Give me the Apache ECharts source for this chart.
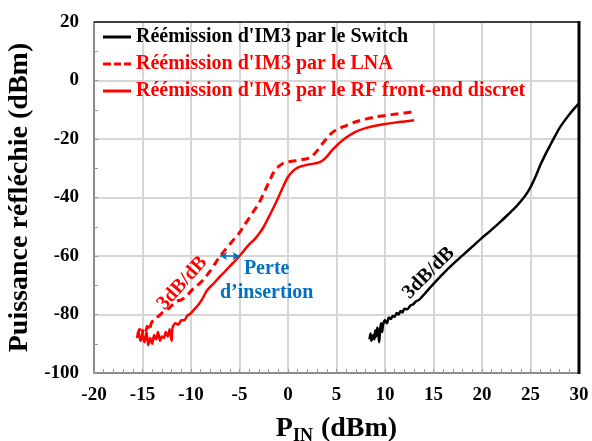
<!DOCTYPE html>
<html><head><meta charset="utf-8">
<script src="https://cdn.jsdelivr.net/npm/echarts@6/dist/echarts.min.js"></script>
<style>html,body{margin:0;padding:0;background:#fff}#c{width:592px;height:441px}</style>
</head><body><div id="c"></div>
<script>
const seriesNames = [
  "Réémission d'IM3 par le Switch",
  "Réémission d'IM3 par le LNA",
  "Réémission d'IM3 par le RF front-end discret"
];
const xRange = [-20, 30, 5];
const yRange = [-100, 20, 20];

const switchData = [
  [8.4,-88.5],[8.5,-86.5],[8.6,-89],[8.8,-87],[8.9,-88.5],[9.0,-85.5],[9.1,-87.5],[9.2,-84.5],[9.3,-86],[9.4,-89.5],
  [9.5,-85],[9.6,-83],[9.7,-86],[9.8,-83.5],[10,-82],[10.2,-83],[10.4,-81],[10.6,-81.5],[10.8,-80.5],[11,-80.8],
  [11.2,-79.5],[11.4,-80],[11.6,-78.8],[11.8,-79.3],[12,-78],[12.3,-78.2],[12.6,-77],[12.9,-76.5],[13.2,-75.5],
  [13.5,-75],[13.8,-74],[14.2,-72.5],[14.6,-71],[15,-69.5],[16,-66],[17,-62.8],[18,-59.8],[19,-56.8],[20,-53.8],
  [21,-51],[22,-48],[23,-44.8],[23.5,-43.2],[24,-41.3],[24.5,-39.2],[25,-36.5],[25.5,-33],[26,-29],[26.5,-25.5],
  [27,-22.3],[27.5,-19.2],[28,-16.2],[28.5,-13.8],[29,-11.6],[29.5,-9.6],[30,-7.8]
];
const lnaData = [
  [-15.5,-87],[-15.3,-85],[-15.1,-87.5],[-14.9,-85],[-14.7,-86],[-14.5,-84],[-14.3,-85.5],[-14.1,-83],[-13.9,-82],
  [-13.6,-81],[-13.3,-80.5],[-13.0,-79.5],[-12.5,-78.5],[-12,-77],[-11.5,-75.5],[-11,-75],[-10.4,-73.5],[-10,-72],
  [-9.5,-70.5],[-9,-69],[-8.7,-68],[-8,-65],[-7.5,-62.5],[-7,-60],[-6.5,-58],[-6,-56],[-5.5,-54],[-5,-52],
  [-4.5,-49.5],[-4,-47],[-3.5,-44.5],[-3,-42],[-2.5,-38.5],[-2,-35],[-1.5,-31.5],[-1,-29.5],[-0.5,-28.3],[0,-27.8],
  [0.5,-27.5],[1,-27.3],[1.5,-27],[2,-26.7],[2.5,-25.8],[3,-24],[3.5,-21.8],[4,-19.8],[4.5,-18],[5,-16.8],
  [6,-15.4],[7,-14.1],[8,-13.2],[9,-12.5],[10,-12],[11,-11.5],[12,-11.1],[13,-10.7]
];
const rfData = [
  [-15.6,-88],[-15.4,-86.5],[-15.2,-89],[-15.0,-87],[-14.8,-89.5],[-14.6,-86],[-14.4,-90.5],[-14.2,-88],[-14.0,-90],
  [-13.8,-87],[-13.6,-88.5],[-13.4,-86],[-13.2,-89],[-13.0,-87.5],[-12.8,-88],[-12.6,-86],[-12.4,-87.5],[-12.2,-85],
  [-12.0,-89],[-11.9,-84.5],[-11.6,-83],[-11.3,-83.5],[-11.0,-82],[-10.7,-82],[-10.4,-80.5],[-10.0,-79.5],[-9.6,-78],
  [-9.2,-76.5],[-8.8,-74.5],[-8.4,-72],[-8.0,-70.5],[-7.5,-68.8],[-7.0,-67],[-6.5,-65.3],[-6.0,-63.5],[-5.5,-61.8],
  [-5.0,-60],[-4.5,-58],[-4,-56],[-3.5,-54.5],[-3,-52.5],[-2.5,-50],[-2,-46.8],[-1.5,-43.5],[-1,-40],[-0.5,-36.3],
  [0,-33],[0.5,-31],[1,-29.8],[1.5,-29.2],[2,-28.8],[2.5,-28.5],[3,-28.2],[3.5,-27.5],[4,-26],[4.5,-24],[5,-22.3],
  [5.5,-20.8],[6,-19.5],[7,-17.5],[8,-16.3],[9,-15.5],[10,-14.9],[11,-14.4],[12,-14],[13,-13.6]
];
const insertionArrow = [[-7,-60],[-5,-60]];
const annotations = [
  {text: '3dB/dB', at: [-10.9, -69.3], rotate: 48, color: '#FF0000'},
  {text: '3dB/dB', at: [14.5, -65.8], rotate: 45, color: '#000000'},
  {text: 'Perte\nd\u2019insertion', at: [-2.2, -68.6], rotate: 0, color: '#0070C0'}
];

const FONT = '"Liberation Serif", "Times New Roman", serif';
const SOLID_ICON = 'path://M0,0h28v3h-28z';
const DASH_ICON = 'path://M0,0h8v3h-8z M11,0h7v3h-7z M21,0h7v3h-7z';
const GRID_COLOR = '#d6d6d6';
const chart = echarts.init(document.getElementById('c'));

const option = {
  animation: false,
  grid: {left: 94, right: 13, top: 22, bottom: 68, outerBoundsMode: 'none'},
  legend: {
    orient: 'vertical', left: 103, top: 27, itemGap: 7, itemWidth: 28, itemHeight: 3, padding: 0,
    textStyle: {fontFamily: FONT, fontWeight: 'bold', fontSize: 20, height: 20, lineHeight: 20},
    data: [
      {name: seriesNames[0], icon: SOLID_ICON, textStyle: {color: '#000'}},
      {name: seriesNames[1], icon: DASH_ICON, textStyle: {color: '#FF0000'}},
      {name: seriesNames[2], icon: SOLID_ICON, textStyle: {color: '#FF0000'}}
    ]
  },
  xAxis: {
    type: 'value', min: xRange[0], max: xRange[1], interval: xRange[2],
    name: '{p|P}{s|IN}{g| }{p|(dBm)}', nameLocation: 'middle', nameGap: 40,
    nameTextStyle: {rich: {
      p: {fontFamily: FONT, fontWeight: 'bold', fontSize: 28, color: '#000'},
      g: {fontFamily: FONT, fontSize: 28, width: 8},
      s: {fontFamily: FONT, fontWeight: 'bold', fontSize: 18, color: '#000', verticalAlign: 'bottom', padding: [14,0,0,0]}
    }},
    axisLine: {onZero: false, lineStyle: {color: '#8c8c8c', width: 2}},
    axisTick: {show: true, inside: true, length: 4, lineStyle: {color: '#999'}},
    minorTick: {show: true, splitNumber: 5, length: 4, lineStyle: {color: '#999'}},
    splitLine: {show: true, lineStyle: {color: GRID_COLOR, width: 2}},
    axisLabel: {fontFamily: FONT, fontWeight: 'bold', fontSize: 19, color: '#000', margin: 13}
  },
  yAxis: {
    type: 'value', min: yRange[0], max: yRange[1], interval: yRange[2],
    name: 'Puissance réfléchie (dBm)', nameLocation: 'middle', nameGap: 56,
    nameTextStyle: {fontFamily: FONT, fontWeight: 'bold', fontSize: 28, color: '#000'},
    axisLine: {show: true, onZero: false, lineStyle: {color: '#8c8c8c', width: 2}},
    axisTick: {show: true, inside: true, length: 4, lineStyle: {color: '#999'}},
    minorTick: {show: true, splitNumber: 2, length: 4, lineStyle: {color: '#999'}},
    splitLine: {show: true, lineStyle: {color: GRID_COLOR, width: 2}},
    axisLabel: {fontFamily: FONT, fontWeight: 'bold', fontSize: 19, color: '#000', margin: 15}
  },
  series: [
    {name: seriesNames[0], type: 'line', data: switchData, showSymbol: false, symbol: 'none', smooth: 0.3,
      lineStyle: {color: '#000', width: 2.5}, itemStyle: {color: '#000'}},
    {name: seriesNames[1], type: 'line', data: lnaData, showSymbol: false, symbol: 'none', smooth: 0.3,
      lineStyle: {color: '#FF0000', width: 3, type: [8, 5]}, itemStyle: {color: '#FF0000'}},
    {name: seriesNames[2], type: 'line', data: rfData, showSymbol: false, symbol: 'none', smooth: 0.3,
      lineStyle: {color: '#FF0000', width: 2.5}, itemStyle: {color: '#FF0000'}},
    {name: 'arrow', type: 'line', data: [], silent: true,
      markLine: {silent: true, symbol: ['arrow', 'arrow'], symbolSize: [6, 7], label: {show: false},
        lineStyle: {color: '#0070C0', width: 1.5, type: 'solid'},
        data: [[{coord: insertionArrow[0]}, {coord: insertionArrow[1]}]]}}
  ]
};
chart.setOption(option);

const toPx = v => chart.convertToPixel({xAxisIndex: 0, yAxisIndex: 0}, v);
const gfx = annotations.map(a => {
  const p = toPx(a.at);
  return {
    type: 'text', x: p[0], y: p[1], rotation: a.rotate * Math.PI / 180, z: 100,
    style: {text: a.text, fill: a.color, font: 'bold 20px ' + FONT, align: 'center', verticalAlign: 'middle', lineHeight: 24}
  };
});
// plot frame along the axis extents
const tl = toPx([xRange[0], yRange[1]]), tr = toPx([xRange[1], yRange[1]]);
const br = toPx([xRange[1], yRange[0]]);
const frame = [
  [tl, tr, '#404040', 2],
  [[tr[0], tr[1] - 1], [br[0], br[1] + 1], '#000', 3]
];
frame.forEach(f => gfx.push({type: 'line', z: 50, silent: true,
  shape: {x1: f[0][0], y1: f[0][1], x2: f[1][0], y2: f[1][1]}, style: {stroke: f[2], lineWidth: f[3]}}));
chart.setOption({graphic: gfx});
</script>
</body></html>
